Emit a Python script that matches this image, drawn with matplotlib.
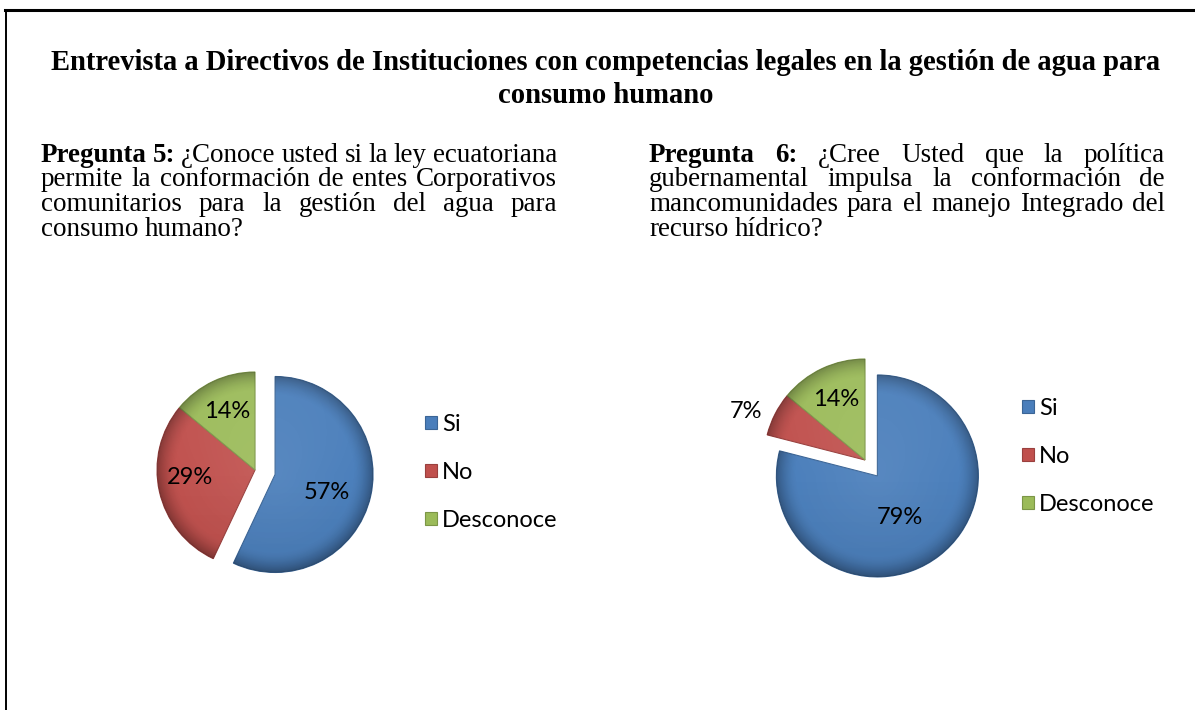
import matplotlib
matplotlib.use("Agg")
import matplotlib.pyplot as plt
import numpy as np
from matplotlib.lines import Line2D
from matplotlib.colors import to_rgb

# ---------------- data ----------------
title_lines = [
    "Entrevista a Directivos de Instituciones con competencias legales en la gestión de agua para",
    "consumo humano",
]
q5_lines = [
    [("Pregunta 5:", True), ("¿Conoce usted si la ley ecuatoriana", False)],
    [("permite la conformación de entes Corporativos", False)],
    [("comunitarios para la gestión del agua para", False)],
    [("consumo humano?", False)],
]
q6_lines = [
    [("Pregunta 6:", True), ("¿Cree Usted que la política", False)],
    [("gubernamental impulsa la conformación de", False)],
    [("mancomunidades para el manejo Integrado del", False)],
    [("recurso hídrico?", False)],
]
categories = ["Si", "No", "Desconoce"]
p5_values = [57, 29, 14]
p6_values = [79, 7, 14]
colors = ["#4A7EBB", "#C0504D", "#9BBB59"]

# ---------------- figure ----------------
W, H = 1195, 710
fig = plt.figure(figsize=(W / 100, H / 100), dpi=100)
fig.patch.set_facecolor("white")
renderer = fig.canvas.get_renderer()

SERIF = "Liberation Serif"
SANS = "Lato"


def fx(x):
    return x / W


def fy(y):
    return 1 - y / H


def text_width(s, **kw):
    t = fig.text(0, 0, s, **kw)
    w = t.get_window_extent(renderer).width
    t.remove()
    return w


def fit_size(s, target, **kw):
    return 10.0 * target / text_width(s, fontsize=10, **kw)


# border
fig.add_artist(Line2D([fx(5), fx(W)], [fy(10), fy(10)], color="black", lw=2.2,
                      transform=fig.transFigure))
fig.add_artist(Line2D([fx(5.5), fx(5.5)], [fy(10), fy(H + 2)], color="black", lw=1.4,
                      transform=fig.transFigure))

# title
tsize = fit_size(title_lines[0], 1114, family=SERIF, weight="bold")
for line, yb in zip(title_lines, [70, 103]):
    fig.text(fx(606), fy(yb), line, family=SERIF, weight="bold", fontsize=tsize,
             ha="center", va="baseline")

# justified question paragraphs
qsize = fit_size("mancomunidades para el manejo Integrado del", 505, family=SERIF)


def draw_justified(lines, x0, x1, baselines, size):
    space = text_width("x x", family=SERIF, fontsize=size) - text_width("xx", family=SERIF, fontsize=size)
    for i, (line, yb) in enumerate(zip(lines, baselines)):
        words = []
        for seg, bold in line:
            for w in seg.split():
                words.append((w, bold))
        widths = [text_width(w, family=SERIF, fontsize=size,
                             weight="bold" if b else "normal") for w, b in words]
        last = i == len(lines) - 1
        if last or len(words) == 1:
            gap = space
        else:
            gap = (x1 - x0 - sum(widths)) / (len(words) - 1)
        x = x0
        for (w, b), wd in zip(words, widths):
            fig.text(fx(x), fy(yb), w, family=SERIF, fontsize=size,
                     weight="bold" if b else "normal", ha="left", va="baseline")
            x += wd + gap


draw_justified(q5_lines, 41, 557, [162, 186.5, 211, 235.5], qsize)
draw_justified(q6_lines, 649, 1165, [162, 186.5, 211, 235.5], qsize)

# pies
lsize = fit_size("Desconoce", 116, family=SANS)


def darker(c, f=0.75):
    r, g, b = to_rgb(c)
    return (r * f, g * f, b * f)


def shade(ax, wedge):
    cx, cy = wedge.center
    r = wedge.r
    n = 300
    xs = np.linspace(cx - 1.05 * r, cx + 1.05 * r, n)
    ys = np.linspace(cy - 1.05 * r, cy + 1.05 * r, n)
    X, Y = np.meshgrid(xs, ys)
    rho = np.hypot(X - cx, Y - cy) / r
    dark = np.zeros((n, n, 4))
    dark[..., 3] = 0.30 * np.clip((rho - 0.80) / 0.20, 0, 1) ** 1.6 + 0.06 * np.clip(-(Y - cy) / r, 0, 1)
    light = np.ones((n, n, 4))
    light[..., 3] = 0.08 * np.clip(1 - rho, 0, 1) + 0.05 * np.clip((Y - cy) / r, 0, 1)
    for arr in (dark, light):
        im = ax.imshow(arr, extent=(xs[0], xs[-1], ys[0], ys[-1]), origin="lower",
                       zorder=wedge.get_zorder() + 0.1, interpolation="bilinear")
        im.set_clip_path(wedge)


def draw_pie(values, cx, cy, r, explode, label_f, label_dth, leg_x, leg_y):
    S = 175
    ax = fig.add_axes([fx(cx - S), fy(cy + S), 2 * S / W, 2 * S / H])
    wedges, texts, autotexts = ax.pie(
        values, colors=colors, startangle=90, counterclock=False,
        explode=explode, autopct="%.0f%%", radius=1,
        textprops=dict(family=SANS, fontsize=lsize, color="black"),
        wedgeprops=dict(linewidth=0.8))
    for w, c in zip(wedges, colors):
        w.set_edgecolor(darker(c, 0.8))
        shade(ax, w)
    for w, t, f, d in zip(wedges, autotexts, label_f, label_dth):
        th = np.deg2rad((w.theta1 + w.theta2) / 2 + d)
        x0, y0 = w.center
        t.set_position((x0 + f * w.r * np.cos(th), y0 + f * w.r * np.sin(th)))
        t.set_zorder(5)
    ax.set_xlim(-S / r, S / r)
    ax.set_ylim(-S / r, S / r)
    ax.set_aspect("equal")
    ax.axis("off")
    ax.legend(wedges, categories, loc="center left",
              bbox_to_anchor=(fx(leg_x), fy(leg_y)), bbox_transform=fig.transFigure,
              frameon=False, prop=dict(family=SANS, size=lsize),
              handlelength=0.5, handleheight=0.5, handletextpad=0.22,
              labelspacing=1.15, borderpad=0, borderaxespad=0)
    return ax


draw_pie(p5_values, 255, 470, 98, [0.21, 0, 0], [0.56, 0.67, 0.66], [-7, -6, 0], 425, 472.5)
draw_pie(p6_values, 865, 460, 101, [0.2, 0, 0], [0.47, 1.27, 0.66], [-9, 5, 0], 1022, 456.5)

fig.savefig("out.png", dpi=100, facecolor="white")
